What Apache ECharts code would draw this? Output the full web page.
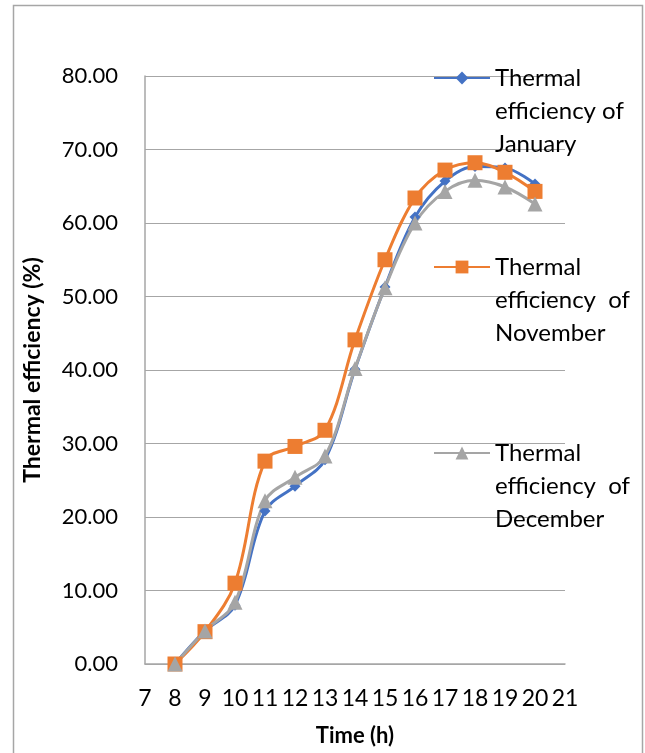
<!DOCTYPE html>
<html>
<head>
<meta charset="utf-8">
<script src="https://cdn.jsdelivr.net/npm/echarts@6/dist/echarts.min.js"></script>
<style>
  html, body { margin: 0; padding: 0; background: #fff; }
  #chart { width: 645px; height: 753px; }
</style>
</head>
<body>
<div id="chart"></div>
<script>
// Hour of day
const hours = [8, 9, 10, 11, 12, 13, 14, 15, 16, 17, 18, 19, 20];
// Thermal efficiency (%) per month
const janEff = [0, 4.5, 8.0, 20.8, 24.2, 27.8, 40.1, 51.3, 60.8, 65.7, 67.7, 67.5, 65.3];
const novEff = [0, 4.4, 11.0, 27.6, 29.6, 31.8, 44.1, 55.0, 63.4, 67.2, 68.2, 66.9, 64.3];
const decEff = [0, 4.5, 8.4, 22.2, 25.4, 28.3, 40.2, 51.2, 60.0, 64.3, 65.8, 64.9, 62.6];

const seriesNames = ['Thermal efficiency of January', 'Thermal efficiency of November', 'Thermal efficiency of December'];
// Two leading blank lines keep the first text line level with the legend icon
const legendTexts = ['\n\nThermal\nefficiency of\nJanuary', '\n\nThermal\nefficiency  of\nNovember', '\n\nThermal\nefficiency  of\nDecember'];
const colors = ['#4472C4', '#ED7D31', '#A5A5A5'];

const FONT = 'Lato';
const pairs = arr => hours.map((h, i) => [h, arr[i]]);

const chart = echarts.init(document.getElementById('chart'), null, { renderer: 'canvas' });

function legendAt(idx, top) {
  return {
    data: [seriesNames[idx]],
    left: 433,
    top: top,
    padding: 0,
    itemWidth: 56,
    itemHeight: 16,
    itemGap: 0,
    selectedMode: false,
    formatter: () => legendTexts[idx],
    textStyle: {
      fontFamily: FONT, fontSize: 24, color: '#000',
      lineHeight: 33
    }
  };
}

chart.setOption({
  backgroundColor: '#fff',
  animation: false,
  color: colors,
  graphic: [{
    type: 'rect',
    shape: { x: 13.5, y: 5.5, width: 629, height: 760 },
    style: { fill: 'none', stroke: '#a6a6a6', lineWidth: 1.5 },
    silent: true,
    z: -1
  }],
  grid: { left: 145, right: 80, top: 76, bottom: 89, containLabel: false },
  legend: [legendAt(0, -4.5), legendAt(1, 184.5), legendAt(2, 370.5)],
  xAxis: {
    type: 'value',
    min: 7, max: 21, interval: 1,
    name: 'Time (h)',
    nameLocation: 'middle',
    nameGap: 61,
    nameMoveOverlap: false,
    nameTextStyle: { fontFamily: FONT, fontSize: 22, fontWeight: 'bold', color: '#000' },
    axisLine: { show: true, lineStyle: { color: '#a6a6a6', width: 1.5 } },
    axisTick: { show: false },
    splitLine: { show: false },
    axisLabel: { fontFamily: FONT, fontSize: 23, color: '#000', margin: 23 }
  },
  yAxis: {
    type: 'value',
    min: 0, max: 80, interval: 10,
    name: 'Thermal efficiency (%)',
    nameLocation: 'middle',
    nameGap: 101,
    nameMoveOverlap: false,
    nameTextStyle: { fontFamily: FONT, fontSize: 23, fontWeight: 'bold', color: '#000' },
    axisLine: { show: true, lineStyle: { color: '#a6a6a6', width: 1.5 } },
    axisTick: { show: false },
    splitLine: { show: true, lineStyle: { color: '#a6a6a6', width: 1.2 } },
    axisLabel: {
      fontFamily: FONT, fontSize: 22, color: '#000', margin: 27,
      formatter: v => v.toFixed(2)
    }
  },
  series: [
    {
      name: seriesNames[0], type: 'line', data: pairs(janEff),
      smooth: 0.35, symbol: 'diamond', symbolSize: 11,
      lineStyle: { width: 3, color: colors[0] },
      itemStyle: { color: colors[0] }
    },
    {
      name: seriesNames[1], type: 'line', data: pairs(novEff),
      smooth: 0.35, symbol: 'rect', symbolSize: 15,
      lineStyle: { width: 3, color: colors[1] },
      itemStyle: { color: colors[1] }
    },
    {
      name: seriesNames[2], type: 'line', data: pairs(decEff),
      smooth: 0.35, symbol: 'triangle', symbolSize: 15,
      lineStyle: { width: 3, color: colors[2] },
      itemStyle: { color: colors[2] }
    }
  ]
});
</script>
</body>
</html>
